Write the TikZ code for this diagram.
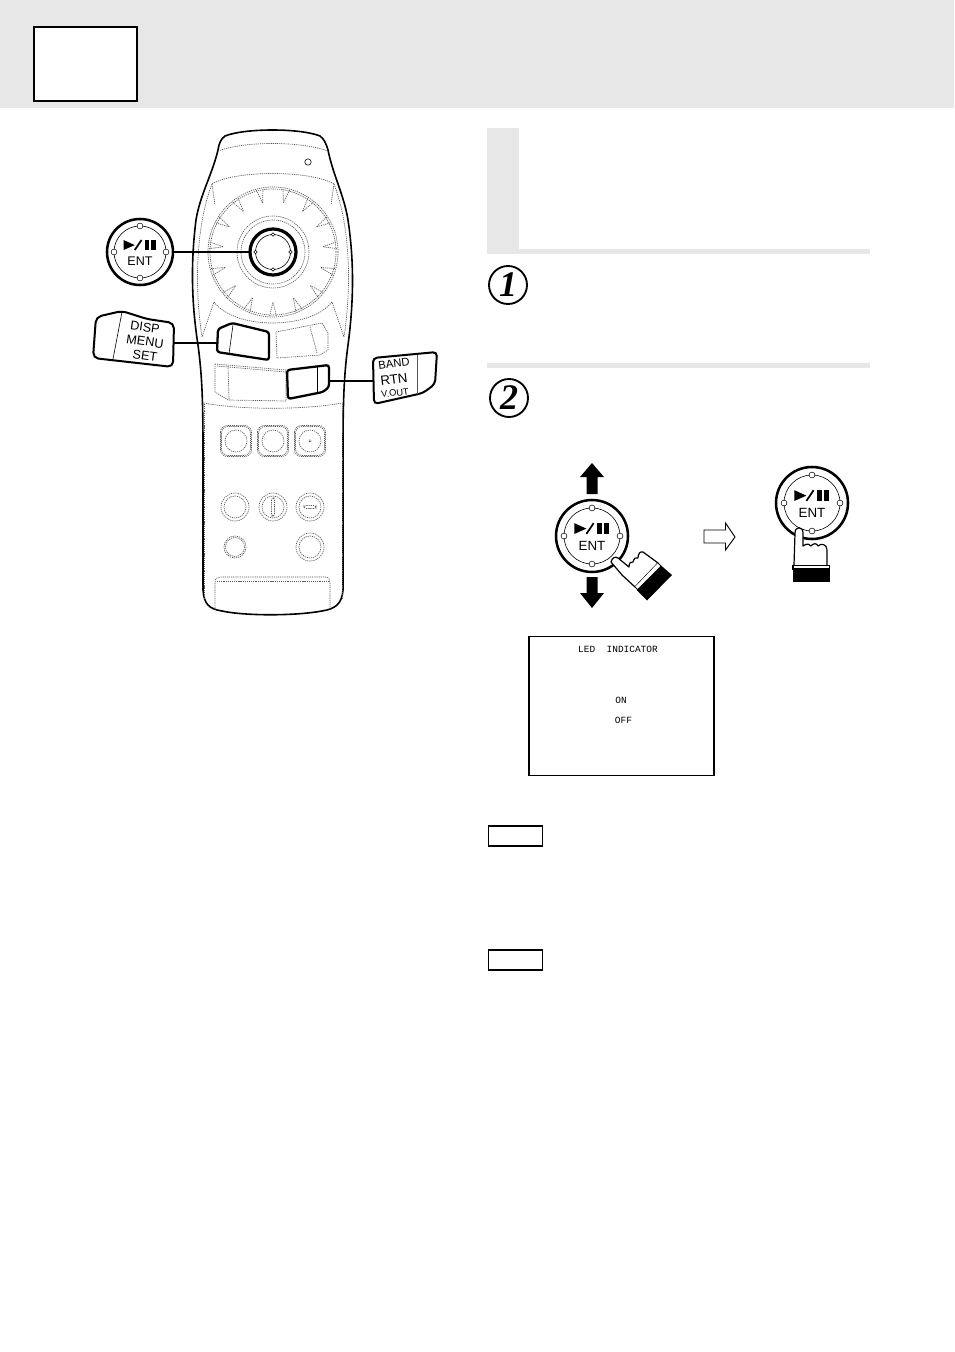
\documentclass[tikz,border=0pt]{standalone}
\usepackage{fontspec}
\setmainfont{Liberation Sans}
\newfontfamily\numfont{Liberation Serif}
\newfontfamily\ledfont{Liberation Mono}
\definecolor{bandgray}{HTML}{E7E7E7}
\definecolor{dotgray}{HTML}{5A5A5A}
\tikzset{
  x=0.75pt,y=-0.75pt,
  thickline/.style={line width=1.9pt,black,line join=round},
  midline/.style={line width=1.3pt,black,line join=round},
  thinline/.style={line width=0.45pt,black},
  dots/.style={line width=0.5pt,dotgray,dash pattern=on 0.9pt off 0.7pt},
  tinyring/.style={draw,fill=white,line width=0.4pt,circle,inner sep=0pt,minimum size=4.4pt},
  keytext/.style={inner sep=0pt,font=\fontsize{#1}{#1}\selectfont},
  grayband/.style={fill=bandgray,draw=none},
  pics/entkey/.style args={#1/#2/#3/#4}{code={
    \draw[thickline,fill=white] (0,0) circle (#1);
    \draw[thinline] (0,0) circle (#2);
    \foreach \a in {0,90,180,270}
      \node[tinyring] at (\a:#2 and -#2) {};
    \fill (-#3*1.1,-#3*0.8) -- (-#3*1.1,-#3*0.13) -- (-#3*0.35,-#3*0.46) -- cycle;
    \draw[line width=1.3pt] (-#3*0.35,-#3*0.13) -- (#3*0.1,-#3*0.8);
    \fill (#3*0.3,-#3*0.8) rectangle (#3*0.62,-#3*0.13);
    \fill (#3*0.72,-#3*0.8) rectangle (#3*1.05,-#3*0.13);
    \node[keytext=#4] at (0,#3*0.62) {ENT};
  }}
}
\begin{document}
\begin{tikzpicture}
\useasboundingbox (0,0) rectangle (954,1352);
\fill[white] (0,0) rectangle (954,1352);
% header
\fill[grayband] (0,0) rectangle (954,108);
\node[draw=black,fill=white,line width=1.3pt,minimum width=77pt,minimum height=55pt,inner sep=0pt] (pagebox) at (85.5,64) {};
\fill[grayband] (487,128) rectangle (519,249);
\fill[grayband] (487,249) rectangle (870,254);
\fill[grayband] (487,363) rectangle (870,368);
% remote outline
\draw[line width=1.2pt,fill=white] (218,150) .. controls (219,143) and (221,139) .. (225,136)
  .. controls (245,128) and (300,128) .. (320,136)
  .. controls (324,139) and (326,143) .. (328,150)
  .. controls (333,175) and (344,195) .. (348,220)
  .. controls (354,260) and (354,300) .. (348,345)
  .. controls (344,375) and (343,400) .. (343,450)
  -- (343,590) .. controls (342,604) and (335,609) .. (322,611)
  .. controls (295,616) and (245,616) .. (222,611)
  .. controls (209,609) and (204,604) .. (203,590)
  -- (203,450) .. controls (203,400) and (202,375) .. (198,345)
  .. controls (191,300) and (191,260) .. (196,220)
  .. controls (200,195) and (212,175) .. (218,150) -- cycle;
% top dotted band
\draw[dots] (218,151) .. controls (245,141) and (300,141) .. (328,151);
\draw[thinline] (308,162) circle (3.2);
% dial
\coordinate (dial) at (273,252);
\draw[dots] (dial) circle (65);
\draw[dots] (dial) circle (63);
\draw[dots] (dial) circle (36);
\draw[dots] (dial) circle (32);
\draw[dots] (212,184) .. controls (235,170) and (310,170) .. (334,184);
\draw[dots] (214,302) .. controls (235,330) and (310,330) .. (332,302);
\foreach \k in {0,...,14}{
  \pgfmathsetmacro{\ang}{90+24*\k}
  \draw[dots] ([shift={(\ang-3:64)}]dial) -- ([shift={(\ang:50)}]dial) -- ([shift={(\ang+3:64)}]dial);
}
% side spikes
\draw[dots] (212,184) -- (215,205);
\draw[dots] (212,184) .. controls (200,215) and (192,270) .. (202,337) -- (214,302);
\draw[dots] (334,184) -- (331,205);
\draw[dots] (334,184) .. controls (346,215) and (354,270) .. (344,337) -- (332,302);
% central key
\draw[line width=2.4pt,fill=white] (dial) circle (23);
\draw[thinline] (dial) circle (17.5);
\foreach \a in {0,90,180,270}
  \node[tinyring,minimum size=2.6pt] at ([shift={(\a:17.5)}]dial) {};
% mid keys
\draw[dots] (276,332) -- (322,323) -- (328,333) -- (328,350) -- (320,355) -- (277,358) -- cycle;
\draw[dots] (310,327) -- (317,353);
\draw[dots] (215,364) -- (286,370) -- (286,401) -- (228,400) -- (215,392) -- cycle;
\draw[dots] (217,366) -- (286,372);
\draw[dots] (228,366) -- (229,399);
\draw[line width=1.7pt,fill=white,rounded corners=2pt] (218,329) -- (232,323) -- (269,332) -- (269,360) -- (217,352) -- cycle;
\draw[thinline] (233,325) -- (229,354);
\draw[line width=1.7pt,fill=white,rounded corners=2pt] (287,370) -- (329,365) -- (329,387) -- (323,392) -- (288,399) -- cycle;
\draw[thinline] (317,367) -- (317,393);
% lower panel
\draw[dots] (204,403) .. controls (240,410) and (305,410) .. (342,403);
\draw[dots] (204,404) -- (204,600);
\draw[dots] (342,404) -- (342,600);
\foreach \x in {236,273,310}{
  \draw[dots,rounded corners=5pt] (\x-15.5,425.5) rectangle (\x+15.5,456.5);
  \draw[dots,rounded corners=5pt] (\x-14.5,426.5) rectangle (\x+14.5,455.5);
  \draw[dots] (\x,441) circle (11);
}
\draw[dots] (310,441) circle (1.2);
\foreach \x/\y/\r in {235/507/14,273/507/14,310/507/14,310/547/14}{
  \draw[dots] (\x,\y) circle (\r);
  \draw[dots] (\x,\y) circle (\r-3);
}
\draw[dots] (235,547) circle (11);
\draw[dots] (235,547) circle (9.5);
\draw[dots,rounded corners=1.5pt] (271.5,498) rectangle (274.5,516);
\draw[dots,rounded corners=1.5pt] (304,505.5) rectangle (316,508.5);
\draw[dots] (215,610) -- (215,583) .. controls (215,578) and (217,577) .. (222,577) -- (325,577) .. controls (329,577) and (330,580) .. (330,583) -- (330,610);
\draw[dots] (217,581) -- (329,581);
% callouts
\pic at (140,252) {entkey=33/26/15/9.4};
\coordinate (entL) at (173,252);
\coordinate (entR) at (250,252);
\draw[midline] (entL) -- (entR);
\draw[line width=1.5pt,fill=white,rounded corners=4pt] (96,317) -- (122,311) -- (147,319) -- (174,323) -- (173,367) -- (93,358) -- cycle;
\draw[thinline] (122,312) -- (113,359);
\node[keytext=9.5,rotate=-8] (disp) at (145,327) {DISP};
\node[keytext=9.5,rotate=-8] (menu) at (145,341.5) {MENU};
\node[keytext=9.5,rotate=-8] (set) at (145,356) {SET};
\coordinate (dispL) at (174,343);
\coordinate (dispR) at (217,343);
\draw[midline] (dispL) -- (dispR);
\draw[line width=1.5pt,fill=white,rounded corners=3pt] (373,358) -- (437,352) -- (435,384) -- (423,393) -- (374,404) -- cycle;
\draw[line width=0.5pt,black!65] (417,355) -- (417,394);
\node[keytext=8.5,rotate=7] (band) at (394,364) {BAND};
\node[keytext=10,rotate=7] (rtn) at (394,379) {RTN};
\node[keytext=7,rotate=7] (vout) at (395,393) {V.OUT};
\coordinate (bandL) at (329,381);
\coordinate (bandR) at (373,381);
\draw[midline] (bandL) -- (bandR);
% step numbers
\node[draw,circle,line width=1.4pt,minimum size=28.5pt,inner sep=0pt,font=\numfont\bfseries\itshape\fontsize{27}{27}\selectfont] (stepone) at (508,285) {1};
\node[draw,circle,line width=1.4pt,minimum size=28.5pt,inner sep=0pt,font=\numfont\bfseries\itshape\fontsize{27}{27}\selectfont] (steptwo) at (509,398) {2};
% arrows
\fill (592,463) -- (604,477) -- (597.5,477) -- (597.5,494) -- (586.5,494) -- (586.5,477) -- (580,477) -- cycle;
\fill (592,608) -- (604,593) -- (597.5,593) -- (597.5,577) -- (586.5,577) -- (586.5,593) -- (580,593) -- cycle;
\pic at (592,536) {entkey=36/28/16/10};
\draw[line width=0.7pt,fill=white] (704,530) -- (725.5,530) -- (725.5,523) -- (735,537) -- (725.5,550) -- (725.5,543) -- (704,543) -- cycle;
\pic at (812,503) {entkey=36/28/16/10};
% hand 1
\draw[line width=0.9pt,fill=white,line join=round] (611,562) .. controls (612,558) and (615,556) .. (618,558)
  -- (629,567) .. controls (629,563) and (631,561) .. (633,562)
  .. controls (634,558) and (636,557) .. (638,558)
  .. controls (638,554) and (640,551) .. (643,552)
  -- (658,563) -- (635,587) -- (622,575) -- cycle;
\fill[white] (658,563) -- (661,566) -- (638,590) -- (635,587) -- cycle;
\draw[line width=0.7pt] (658,563) -- (661,566);
\draw[line width=0.7pt] (635,587) -- (638,590);
\fill (661,565.5) -- (672,575) -- (647,600.5) -- (636.5,590) -- cycle;
% hand 2
\draw[line width=0.9pt,fill=white,line join=round] (794,565) -- (795,533) .. controls (795,526) and (803,526) .. (803,533)
  -- (803,546) .. controls (807,543) and (810,544) .. (811,546)
  .. controls (813,543) and (817,543) .. (818,546)
  .. controls (821,543) and (827,544) .. (827,550) -- (827,565);
\draw[line width=0.9pt,fill=white] (793,565.5) rectangle (829.5,569);
\fill (793,569) rectangle (830,582);
% LED screen
\node[draw=black,line width=1.2pt,minimum width=138.5pt,minimum height=104.5pt,inner sep=0pt] (screen) at (621.5,706) {};
\node[inner sep=0pt,font=\ledfont\fontsize{7.1}{7.1}\selectfont] (ledtitle) at (618,649) {LED\ \ INDICATOR};
\node[inner sep=0pt,font=\ledfont\fontsize{7.1}{7.1}\selectfont] (ledon) at (621,700.5) {ON};
\node[inner sep=0pt,font=\ledfont\fontsize{7.1}{7.1}\selectfont] (ledoff) at (623.5,720.5) {OFF};
% note boxes
\node[draw=black,line width=0.9pt,minimum width=41pt,minimum height=15pt,inner sep=0pt] (noteone) at (515.5,836) {};
\node[draw=black,line width=0.9pt,minimum width=41pt,minimum height=15pt,inner sep=0pt] (notetwo) at (515.5,960) {};
\end{tikzpicture}
\end{document}
